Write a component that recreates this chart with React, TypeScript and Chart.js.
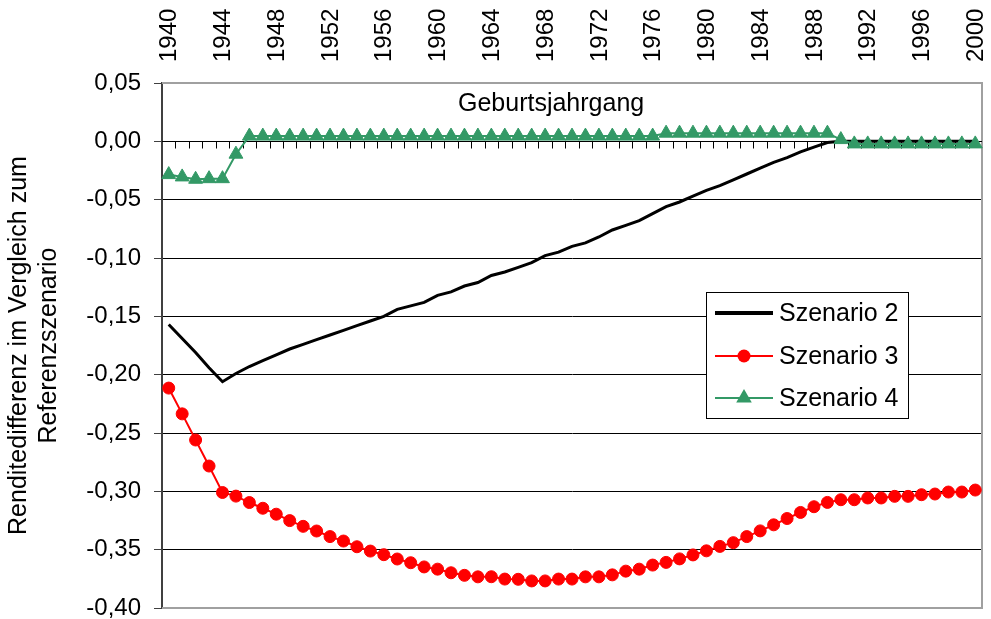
import React, { useEffect, useRef } from 'react';
import { Chart, registerables } from 'chart.js';

Chart.register(...registerables);

const FONT = "'Liberation Sans', Arial, sans-serif";

const years = [
  '1940','1941','1942','1943','1944','1945','1946','1947','1948','1949',
  '1950','1951','1952','1953','1954','1955','1956','1957','1958','1959',
  '1960','1961','1962','1963','1964','1965','1966','1967','1968','1969',
  '1970','1971','1972','1973','1974','1975','1976','1977','1978','1979',
  '1980','1981','1982','1983','1984','1985','1986','1987','1988','1989',
  '1990','1991','1992','1993','1994','1995','1996','1997','1998','1999',
  '2000',
];

const shownYearLabels = [
  '1940','1944','1948','1952','1956','1960','1964','1968','1972','1976',
  '1980','1984','1988','1992','1996','2000',
];

const szenario2 = [
  -0.157, -0.169, -0.181, -0.194, -0.206, -0.199, -0.193, -0.188, -0.183, -0.178,
  -0.174, -0.170, -0.166, -0.162, -0.158, -0.154, -0.150, -0.144, -0.141, -0.138,
  -0.132, -0.129, -0.124, -0.121, -0.115, -0.112, -0.108, -0.104, -0.098, -0.095,
  -0.090, -0.087, -0.082, -0.076, -0.072, -0.068, -0.062, -0.056, -0.052, -0.047,
  -0.042, -0.038, -0.033, -0.028, -0.023, -0.018, -0.014, -0.009, -0.005, -0.001,
  0, 0, 0, 0, 0, 0, 0, 0, 0, 0,
  0,
];

const szenario3 = [
  -0.2115, -0.2336, -0.2560, -0.2783, -0.3010, -0.3041, -0.3096, -0.3145, -0.3196, -0.3251,
  -0.3300, -0.3340, -0.3388, -0.3426, -0.3475, -0.3512, -0.3543, -0.3580, -0.3612, -0.3648,
  -0.3667, -0.3698, -0.3720, -0.3733, -0.3732, -0.3752, -0.3754, -0.3768, -0.3768, -0.3752,
  -0.3752, -0.3733, -0.3733, -0.3716, -0.3684, -0.3667, -0.3632, -0.3609, -0.3579, -0.3545,
  -0.3510, -0.3472, -0.3440, -0.3388, -0.3339, -0.3287, -0.3233, -0.3181, -0.3132, -0.3095,
  -0.3072, -0.3072, -0.3057, -0.3057, -0.3043, -0.3043, -0.3029, -0.3023, -0.3006, -0.3006,
  -0.2989,
];

const szenario4 = [
  -0.0285, -0.0305, -0.0325, -0.0320, -0.0320, -0.0110, 0.0045, 0.0045, 0.0045, 0.0045,
  0.0045, 0.0045, 0.0045, 0.0045, 0.0045, 0.0045, 0.0045, 0.0045, 0.0045, 0.0045,
  0.0045, 0.0045, 0.0045, 0.0045, 0.0045, 0.0045, 0.0045, 0.0045, 0.0045, 0.0045,
  0.0045, 0.0045, 0.0045, 0.0045, 0.0045, 0.0045, 0.0045, 0.0070, 0.0070, 0.0070,
  0.0070, 0.0070, 0.0070, 0.0070, 0.0070, 0.0070, 0.0070, 0.0070, 0.0070, 0.0070,
  0.0015, -0.0022, -0.0022, -0.0022, -0.0022, -0.0022, -0.0022, -0.0022, -0.0022, -0.0022,
  -0.0022,
];

const seriesNames = ['Szenario 2', 'Szenario 3', 'Szenario 4'];
const xAxisTitle = 'Geburtsjahrgang';
const yAxisTitle = ['Renditedifferenz im Vergleich zum', 'Referenzszenario'];

const BLACK = '#000000';
const RED = '#ff0000';
const GREEN = '#339966';

const decorPlugin = {
  id: 'decor',
  beforeDatasetsDraw(chart: any) {
    const { ctx, chartArea, scales } = chart;
    const xs = scales.x;
    const ys = scales.y;
    ctx.save();
    // plot border (top, right, bottom)
    ctx.strokeStyle = '#a0a0a0';
    ctx.lineWidth = 2;
    ctx.beginPath();
    ctx.moveTo(chartArea.left, chartArea.top);
    ctx.lineTo(chartArea.right, chartArea.top);
    ctx.lineTo(chartArea.right, chartArea.bottom);
    ctx.lineTo(chartArea.left, chartArea.bottom);
    ctx.stroke();
    // category axis crossing at zero, tick marks between categories
    const y0 = Math.round(ys.getPixelForValue(0)) + 0.5;
    ctx.strokeStyle = '#000';
    ctx.lineWidth = 1;
    ctx.beginPath();
    ctx.moveTo(chartArea.left, y0);
    ctx.lineTo(chartArea.right, y0);
    for (let i = 1; i < years.length; i++) {
      const px = Math.round((xs.getPixelForValue(i - 1) + xs.getPixelForValue(i)) / 2) + 0.5;
      ctx.moveTo(px, y0);
      ctx.lineTo(px, y0 + 7);
    }
    ctx.stroke();
    // category labels at the top, rotated
    ctx.fillStyle = '#000';
    ctx.font = `24px ${FONT}`;
    ctx.textAlign = 'left';
    ctx.textBaseline = 'middle';
    shownYearLabels.forEach((lab) => {
      const idx = years.indexOf(lab);
      const px = xs.getPixelForValue(idx);
      ctx.save();
      ctx.translate(px, chartArea.top - 21);
      ctx.rotate(-Math.PI / 2);
      ctx.fillText(lab, 0, 1);
      ctx.restore();
    });
    // axis title inside the plot
    ctx.font = `25px ${FONT}`;
    ctx.textAlign = 'center';
    ctx.textBaseline = 'middle';
    const tx = chartArea.left + (chartArea.right - chartArea.left) * 0.4745;
    const ty = ys.getPixelForValue(0.05) + 21;
    ctx.fillText(xAxisTitle, tx, ty);
    ctx.restore();
  },
  afterDraw(chart: any) {
    const { ctx, chartArea } = chart;
    const bx = chartArea.left + 544;
    const by = chartArea.top + 209;
    const bw = 202;
    const bh = 126;
    ctx.save();
    ctx.fillStyle = '#fff';
    ctx.fillRect(bx, by, bw, bh);
    ctx.strokeStyle = '#000';
    ctx.lineWidth = 1;
    ctx.strokeRect(bx + 0.5, by + 0.5, bw, bh);
    const rowY = [by + 21, by + 64, by + 106];
    const lx0 = bx + 9;
    const lx1 = bx + 67;
    const mx = (lx0 + lx1) / 2;
    ctx.strokeStyle = BLACK;
    ctx.lineWidth = 4;
    ctx.beginPath();
    ctx.moveTo(lx0, rowY[0]);
    ctx.lineTo(lx1, rowY[0]);
    ctx.stroke();
    ctx.strokeStyle = RED;
    ctx.lineWidth = 2;
    ctx.beginPath();
    ctx.moveTo(lx0, rowY[1]);
    ctx.lineTo(lx1, rowY[1]);
    ctx.stroke();
    ctx.fillStyle = RED;
    ctx.beginPath();
    ctx.arc(mx, rowY[1], 6.5, 0, Math.PI * 2);
    ctx.fill();
    ctx.strokeStyle = GREEN;
    ctx.lineWidth = 2;
    ctx.beginPath();
    ctx.moveTo(lx0, rowY[2]);
    ctx.lineTo(lx1, rowY[2]);
    ctx.stroke();
    ctx.fillStyle = GREEN;
    const r = 9;
    ctx.beginPath();
    ctx.moveTo(mx, rowY[2] - r);
    ctx.lineTo(mx + r * 0.866, rowY[2] + r * 0.5);
    ctx.lineTo(mx - r * 0.866, rowY[2] + r * 0.5);
    ctx.closePath();
    ctx.fill();
    ctx.fillStyle = '#000';
    ctx.font = `25px ${FONT}`;
    ctx.textAlign = 'left';
    ctx.textBaseline = 'middle';
    seriesNames.forEach((n, i) => ctx.fillText(n, bx + 73, rowY[i] + 1));
    ctx.restore();
  },
};

export default function App() {
  const ref = useRef<HTMLCanvasElement>(null);
  useEffect(() => {
    if (!ref.current) return;
    Chart.defaults.font.family = FONT;
    Chart.defaults.color = '#000';
    const chart = new Chart(ref.current, {
      type: 'line',
      data: {
        labels: years,
        datasets: [
          {
            label: seriesNames[0],
            data: szenario2,
            borderColor: BLACK,
            backgroundColor: BLACK,
            borderWidth: 3,
            pointRadius: 0,
            tension: 0,
            order: 2,
          },
          {
            label: seriesNames[1],
            data: szenario3,
            borderColor: RED,
            backgroundColor: RED,
            borderWidth: 2,
            pointRadius: 6,
            pointBorderWidth: 1,
            pointBackgroundColor: RED,
            pointBorderColor: RED,
            pointStyle: 'circle',
            tension: 0,
            order: 1,
          },
          {
            label: seriesNames[2],
            data: szenario4,
            borderColor: GREEN,
            backgroundColor: GREEN,
            borderWidth: 2,
            pointRadius: 8,
            pointBorderWidth: 1,
            pointBackgroundColor: GREEN,
            pointBorderColor: GREEN,
            pointStyle: 'triangle',
            tension: 0,
            order: 0,
          },
        ],
      },
      options: {
        animation: false,
        responsive: true,
        maintainAspectRatio: false,
        events: [],
        layout: { padding: { left: 0, top: 0, right: 6, bottom: 11 } },
        plugins: {
          legend: { display: false },
          tooltip: { enabled: false },
        },
        scales: {
          x: {
            type: 'category',
            position: 'top',
            offset: true,
            grid: { display: false, drawTicks: false },
            border: { display: false },
            ticks: { display: false },
            afterFit: (s: any) => {
              s.height = 83;
              s.paddingLeft = 0;
              s.paddingRight = 0;
            },
          },
          y: {
            type: 'linear',
            min: -0.4,
            max: 0.05,
            ticks: {
              stepSize: 0.05,
              padding: 13,
              font: { size: 24, family: FONT },
              color: '#000',
              callback: (v: any) => {
                const n = Math.abs(v) < 1e-9 ? 0 : Number(v);
                return n.toFixed(2).replace('.', ',');
              },
            },
            grid: {
              color: (c: any) =>
                c.index === 0 || c.index === 9 ? 'rgba(0,0,0,0)' : '#000',
              lineWidth: 1,
              drawTicks: true,
              tickLength: 8,
              tickColor: '#404040',
            },
            border: { display: true, color: '#404040', width: 2 },
            title: {
              display: true,
              text: yAxisTitle,
              font: { size: 25, family: FONT },
              color: '#000',
              padding: { top: 4, bottom: 0 },
            },
            afterFit: (s: any) => {
              s.width = 162;
              s.paddingTop = 0;
              s.paddingBottom = 0;
            },
          },
        },
      },
      plugins: [decorPlugin],
    });
    return () => chart.destroy();
  }, []);
  return (
    <div style={{ position: 'absolute', left: 0, top: 0, width: 991, height: 619, background: '#fff' }}>
      <canvas ref={ref} />
    </div>
  );
}
